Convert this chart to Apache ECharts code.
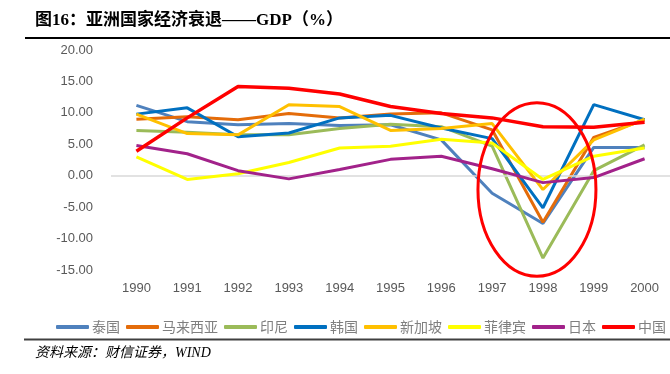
<!DOCTYPE html>
<html>
<head>
<meta charset="utf-8">
<script src="https://cdn.jsdelivr.net/npm/echarts@6/dist/echarts.min.js"></script>
<style>
html,body{margin:0;padding:0;background:#fff;}
#chart{width:670px;height:374px;}
</style>
</head>
<body>
<div id="chart"></div>
<script>
var years = ['1990','1991','1992','1993','1994','1995','1996','1997','1998','1999','2000'];
var seriesNames = ['泰国','马来西亚','印尼','韩国','新加坡','菲律宾','日本','中国'];
var thailand    = [11.2, 8.6, 8.1, 8.3, 8.0, 8.1, 5.7, -2.8, -7.6, 4.5, 4.5];
var malaysia    = [9.0, 9.4, 8.9, 9.9, 9.2, 9.8, 10.0, 7.3, -7.4, 6.1, 8.9];
var indonesia   = [7.2, 6.9, 6.5, 6.5, 7.5, 8.2, 7.8, 4.7, -13.1, 0.8, 4.9];
var korea       = [9.8, 10.8, 6.2, 6.8, 9.2, 9.6, 7.6, 5.9, -5.1, 11.3, 8.9];
var singapore   = [9.8, 6.7, 6.5, 11.3, 11.0, 7.2, 7.5, 8.3, -2.2, 5.7, 9.0];
var philippines = [3.0, -0.6, 0.3, 2.1, 4.4, 4.7, 5.8, 5.2, -0.6, 3.1, 4.4];
var japan       = [4.8, 3.5, 0.8, -0.5, 1.0, 2.6, 3.1, 1.1, -1.1, -0.3, 2.7];
var china       = [3.9, 9.2, 14.2, 13.9, 13.0, 11.0, 9.9, 9.2, 7.8, 7.7, 8.5];
var yTicks = {min: -15, max: 20, interval: 5};
var titleText = '图16：亚洲国家经济衰退——GDP（%）';
var sourceText = '资料来源：财信证券，WIND';

var colors = ['#4f81bd','#e46c0a','#9bbb59','#0070c0','#ffc000','#ffff00','#a2228a','#ff0000'];
var allData = [thailand, malaysia, indonesia, korea, singapore, philippines, japan, china];

var chart = echarts.init(document.getElementById('chart'));
var series = allData.map(function(d, i){
  var s = {
    name: seriesNames[i],
    type: 'line',
    data: d,
    symbol: 'none',
    smooth: false,
    z: 2 + i,
    lineStyle: {width: i === 7 ? 3.5 : 3, color: colors[i]},
    itemStyle: {color: colors[i]}
  };
  if (i === 0) {
    s.markLine = {
      silent: true,
      symbol: 'none',
      label: {show: false},
      lineStyle: {color: '#d9d9d9', width: 1.5, type: 'solid'},
      data: [{yAxis: 0}]
    };
  }
  return s;
});

var option = {
  animation: false,
  backgroundColor: '#fff',
  grid: {left: 111, right: 0, top: 50, bottom: 104, containLabel: false},
  legend: {
    data: seriesNames,
    left: 51, top: 315, width: 640,
    icon: 'roundRect',
    itemWidth: 33, itemHeight: 4,
    itemGap: 6,
    textStyle: {color: '#7f7f7f', fontSize: 14, fontFamily: 'Noto Sans CJK SC', padding: [0,0,0,-2]}
  },
  xAxis: {
    type: 'category',
    data: years,
    boundaryGap: true,
    axisLine: {show: false, onZero: false},
    axisTick: {show: false},
    axisLabel: {color: '#595959', fontSize: 13, margin: 12, fontFamily: 'Liberation Sans'},
    splitLine: {show: false}
  },
  yAxis: {
    type: 'value',
    min: yTicks.min, max: yTicks.max, interval: yTicks.interval,
    axisLine: {show: false},
    axisTick: {show: false},
    splitLine: {show: false},
    axisLabel: {color: '#595959', fontSize: 13, margin: 18, fontFamily: 'Liberation Sans',
      formatter: function(v){ return v.toFixed(2); }}
  },
  series: series
};
chart.setOption(option);

var c1998 = chart.convertToPixel({xAxisIndex: 0}, '1998');
var yc = chart.convertToPixel({yAxisIndex: 0}, -2.2);
var yTop = chart.convertToPixel({yAxisIndex: 0}, 11.6);

chart.setOption({
  graphic: [
    {type: 'text', left: 35, top: 12, z: 10,
     style: {text: titleText, fill: '#000', font: 'bold 17px "Liberation Serif", "Noto Sans CJK SC"'}},
    {type: 'line', z: 10, shape: {x1: 25, y1: 38, x2: 670, y2: 38}, style: {stroke: '#000', lineWidth: 1.8}},
    {type: 'line', z: 10, shape: {x1: 24, y1: 339.5, x2: 670, y2: 339.5}, style: {stroke: '#404040', lineWidth: 2}},
    {type: 'text', left: 35, top: 346, z: 10,
     style: {text: sourceText, fill: '#000', font: 'italic 14px "Liberation Serif", "Noto Sans CJK SC"'}},
    {type: 'ellipse', z: 20, silent: true,
     shape: {cx: c1998 - 6, cy: yc, rx: 59, ry: yc - yTop},
     style: {fill: 'none', stroke: '#ff0000', lineWidth: 3}}
  ]
});
</script>
</body>
</html>
